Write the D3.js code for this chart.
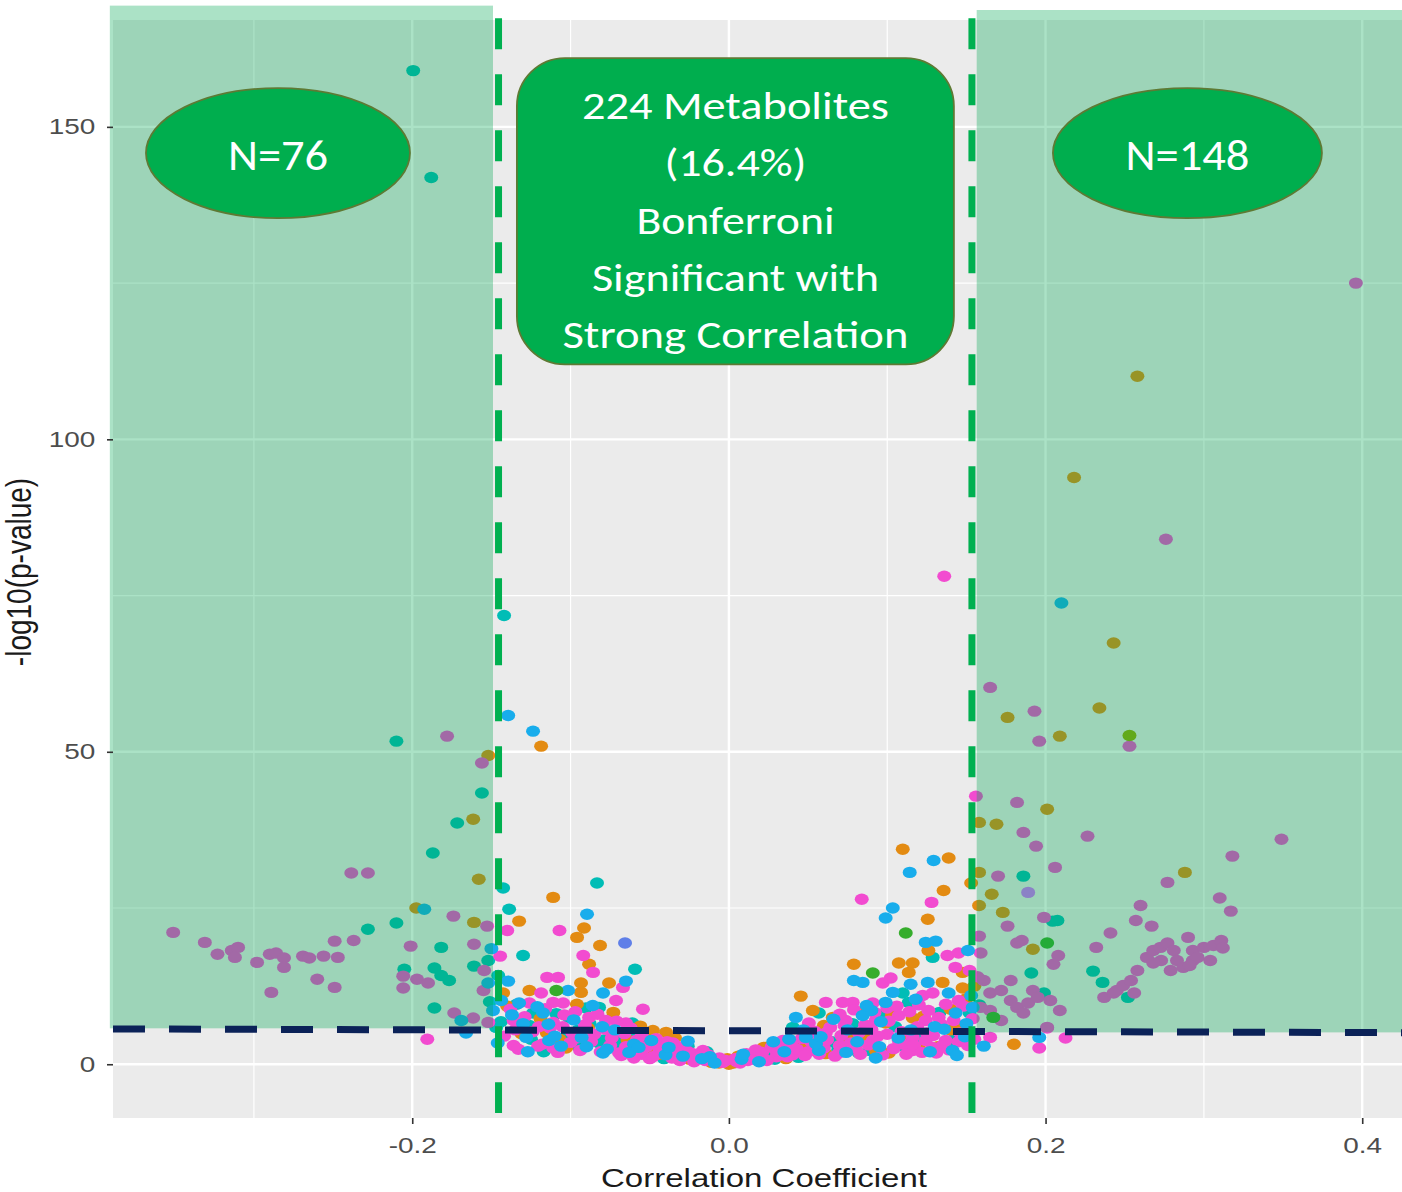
<!DOCTYPE html>
<html>
<head>
<meta charset="utf-8">
<script src="https://cdn.jsdelivr.net/npm/d3@7"></script>
<style>
  body { margin: 0; background: #ffffff; }
  svg { display: block; }
</style>
</head>
<body>
<svg id="chart" width="1402" height="1192"></svg>
<script>
// Each point: [correlation coefficient, -log10(p-value)], grouped by colour class.
const magentaPts = [
  [0.396,125.0],[0.276,84.0],[0.136,78.1],[0.165,60.3],[0.193,56.5],[0.196,51.7],[0.253,50.9],
  [0.156,42.9],[0.182,41.9],[0.186,37.1],[0.194,34.9],[0.2265,36.5],[0.206,31.5],[0.170,30.1],
  [0.176,22.1],[0.199,23.5],[0.158,20.5],[0.185,19.8],[0.182,19.4],[0.208,17.4],[0.205,16.0],
  [0.241,21.0],[0.232,18.7],[0.257,23.0],[0.260,25.4],[0.267,22.1],[0.277,29.1],
  [0.159,17.8],[0.161,13.4],[0.165,11.4],[0.172,11.8],[0.178,10.2],[0.182,9.1],[0.186,8.2],
  [0.189,9.8],[0.192,11.8],[0.195,10.7],[0.203,10.2],[0.209,8.6],[0.201,5.9],[0.165,8.6],
  [0.172,7.0],[0.159,9.1],[0.178,13.4],
  [0.245,11.8],[0.237,10.7],[0.243,11.4],[0.249,12.6],[0.254,13.4],[0.256,11.4],[0.258,15.0],
  [0.264,17.1],[0.268,18.2],[0.2726,18.7],[0.277,19.4],[0.281,18.2],[0.283,16.6],[0.273,16.6],
  [0.279,15.0],[0.268,16.2],[0.290,20.3],[0.293,18.2],[0.293,16.6],[0.287,15.5],
  [0.349,36.0],[0.318,33.3],[0.310,26.6],[0.317,24.5],[0.300,18.7],[0.306,19.0],[0.311,19.8],
  [0.312,18.6],[0.304,16.6],[0.296,17.1],[0.291,15.8],
  [0.196,2.6],[0.2126,4.2],[0.165,4.3],[0.201,5.8],
  [-0.178,52.5],[-0.156,48.2],[-0.2385,30.6],[-0.228,30.6],[-0.174,23.7],[-0.1527,22.1],
  [-0.351,21.1],[-0.331,19.5],[-0.323,17.6],[-0.314,18.2],[-0.310,18.7],[-0.312,17.1],
  [-0.298,16.3],[-0.290,17.6],[-0.286,17.8],[-0.281,17.0],[-0.281,15.5],[-0.269,17.3],
  [-0.265,17.0],[-0.256,17.3],[-0.247,17.1],[-0.249,19.7],[-0.237,19.8],[-0.289,11.5],
  [-0.260,13.6],[-0.249,12.3],[-0.201,18.9],[-0.161,19.2],[-0.2057,14.1],[-0.197,13.6],
  [-0.190,13.0],[-0.2057,12.2],[-0.1546,15.0],[-0.1735,8.2],[-0.1615,7.4],[-0.155,11.8],
  [-0.152,6.7],[-0.1905,4.0],
  [-0.140,21.4],[-0.107,21.4],[-0.1445,17.3],[-0.092,17.4],[-0.0858,14.7],[-0.1148,13.9],
  [-0.1079,13.9],[-0.0669,12.3],[-0.1186,11.4],[-0.0543,8.8],[-0.126,9.8],[-0.111,9.9],
  [-0.1047,9.8],[-0.0713,10.2],[-0.136,7.0],[-0.111,6.7],[-0.0883,7.5],[-0.0776,7.0],
  [-0.065,6.6],[-0.136,3.0],[-0.1205,2.9],[-0.111,2.6],[-0.0965,4.2],[-0.0694,1.8],
  [-0.0587,2.2],[-0.0442,1.8],[-0.0315,1.1],[-0.0208,1.1],[-0.0732,5.0],[-0.0353,3.4],
  [-0.0164,2.2],
  [-0.135,5.5],[-0.12,6.0],[-0.105,6.0],[-0.10,3.5],[-0.085,4.8],[-0.075,3.0],[-0.065,2.8],
  [-0.055,1.6],[-0.045,3.0],[-0.035,2.0],[-0.028,1.4],[-0.02,1.6],[-0.015,0.6],[-0.004,0.3],
  [-0.06,1.0],[-0.05,0.9],
  [-0.142,4.5],[-0.138,8.8],[-0.133,2.4],[-0.129,7.6],[-0.124,5.2],[-0.118,3.2],[-0.116,8.9],
  [-0.113,5.8],[-0.108,1.9],[-0.104,7.9],[-0.099,5.1],[-0.097,8.4],[-0.094,2.2],[-0.091,6.3],
  [-0.087,3.6],[-0.083,8.0],[-0.081,2.0],[-0.078,5.6],[-0.074,4.2],[-0.071,6.9],[-0.068,1.4],
  [-0.066,4.9],[-0.062,5.8],[-0.058,3.9],[-0.055,4.6],[-0.052,2.8],[-0.048,1.2],[-0.046,4.1],
  [-0.042,2.4],[-0.039,3.6],[-0.036,1.0],[-0.033,2.9],[-0.031,0.6],[-0.027,2.2],[-0.024,1.8],
  [-0.022,0.4],[-0.018,1.3],[-0.013,1.5],[-0.010,0.7],[-0.006,1.0],[-0.002,0.6],
  [0.0839,26.4],[0.128,25.9],[0.138,17.4],[0.145,17.8],[0.143,15.5],[0.0972,13.0],[0.1022,13.8],
  [0.0612,9.9],[0.0719,9.9],[0.0782,9.9],[0.0909,9.8],[0.1224,11.0],[0.1287,11.4],[0.1451,10.2],
  [0.0738,7.0],[0.0927,7.0],[0.1073,7.8],[0.1243,7.0],[0.1325,7.5],[0.0612,5.0],[0.082,5.0],
  [0.0909,3.8],[0.1073,3.8],[0.1161,4.3],[0.1243,3.8],[0.1369,3.8],[0.1161,2.2],[0.1287,2.7],
  [0.0404,2.7],[0.0297,2.2],[0.0189,1.8],[0.0107,1.1],[0.0694,1.8],[0.0505,6.6],[0.034,3.8],
  [0.005,0.4],[0.012,0.6],[0.02,1.0],[0.03,1.2],[0.04,1.5],[0.05,2.0],[0.06,2.6],[0.07,3.0],
  [0.08,2.6],[0.09,5.6],[0.10,4.8],[0.11,3.2],[0.125,5.0],[0.135,3.0],[0.145,3.6],[0.155,4.0],
  [0.07,8.0],[0.10,9.0],[0.12,9.5],[0.05,4.8],[0.152,15.0],[0.157,14.0],
  [0.004,0.9],[0.007,0.2],[0.011,1.7],[0.014,0.8],[0.017,2.3],[0.021,1.9],[0.024,0.6],
  [0.027,2.8],[0.031,2.1],[0.033,3.3],[0.037,1.2],[0.039,3.4],[0.043,2.4],[0.046,4.1],
  [0.048,1.4],[0.052,3.6],[0.054,5.3],[0.057,1.6],[0.062,3.9],[0.064,5.9],[0.067,1.3],
  [0.071,4.6],[0.073,6.2],[0.077,3.4],[0.079,8.7],[0.083,1.6],[0.086,6.3],[0.088,3.1],
  [0.092,8.3],[0.094,4.5],[0.097,1.5],[0.101,6.9],[0.104,2.5],[0.106,9.3],[0.109,5.2],
  [0.112,1.6],[0.114,8.4],[0.117,3.0],[0.119,6.0],[0.122,1.9],[0.126,8.6],[0.129,4.6],
  [0.131,1.8],[0.134,6.4],[0.137,9.6],[0.139,2.3],[0.142,7.0],[0.146,5.0],[0.148,9.3],
  [0.151,3.0],[0.154,7.3]
];

const tealPts = [
  [-0.1994,159.0],[-0.188,141.9],[-0.142,71.8],[-0.210,51.7],[-0.156,43.4],[-0.1716,38.6],
  [-0.187,33.8],[-0.210,22.6],[-0.228,21.6],[-0.1817,18.7],[-0.205,15.2],[-0.186,15.4],
  [-0.1817,14.2],[-0.1767,13.4],[-0.161,15.7],[-0.152,16.6],[-0.186,9.0],
  [-0.1426,28.2],[-0.0833,29.0],[-0.1388,24.8],[-0.130,17.4],[-0.0593,15.2],[-0.0902,9.0],
  [-0.082,9.1],[-0.1237,8.2],[-0.101,7.5],[-0.0946,2.7],[-0.082,3.4],[-0.0606,4.3],
  [-0.0505,3.8],[-0.147,5.9],[-0.1457,14.2],[-0.125,4.0],[-0.095,5.5],[-0.07,4.0],
  [-0.03,2.5],[-0.045,1.9],[-0.151,10.0],
  [-0.144,6.8],[-0.134,9.6],[-0.126,6.2],[-0.117,2.0],[-0.109,8.1],[-0.102,4.7],[-0.088,6.5],
  [-0.079,3.9],[-0.069,2.4],[-0.061,6.6],[-0.053,3.6],[-0.041,0.9],[-0.026,2.9],[-0.014,2.0],
  [0.186,30.1],[0.2075,23.0],[0.2045,22.9],[0.191,14.6],[0.230,14.9],[0.236,13.1],
  [0.199,11.4],[0.252,10.7],
  [0.1287,17.1],[0.1098,11.4],[0.1136,9.9],[0.0568,8.2],[0.082,1.8],[0.0404,5.9],
  [0.025,1.6],[0.065,3.6],[0.105,6.0],[0.158,9.5],
  [0.016,1.6],[0.029,0.8],[0.044,1.1],[0.059,5.1],[0.069,2.3],[0.078,6.5],[0.089,2.2],
  [0.098,8.0],[0.108,3.0],[0.121,4.4],[0.133,8.3],[0.141,3.8],[0.152,8.2]
];

const bluePts = [
  [0.210,73.8],[-0.1394,55.8],[-0.1237,53.3],[-0.1924,24.8],[-0.169,7.0],[-0.166,5.0],
  [-0.0896,24.0],[-0.1394,13.3],[-0.065,13.3],[-0.1016,11.8],[-0.0795,11.4],[-0.1325,9.8],
  [-0.149,8.6],[-0.1174,8.2],[-0.128,4.3],[-0.1136,3.8],[-0.0795,1.8],[-0.0259,3.7],
  [-0.1438,10.2],[-0.13,6.5],[-0.11,4.5],[-0.09,2.8],[-0.08,6.0],[-0.06,3.2],[-0.04,1.5],
  [-0.012,1.2],[-0.152,13.0],[-0.150,18.5],
  [-0.146,3.4],[-0.137,7.9],[-0.127,2.0],[-0.121,9.2],[-0.114,6.4],[-0.106,2.9],[-0.098,7.1],
  [-0.093,4.3],[-0.086,9.4],[-0.077,2.4],[-0.072,5.5],[-0.063,1.9],[-0.057,2.7],[-0.049,3.8],
  [-0.038,2.7],[-0.029,1.3],[-0.017,0.9],[-0.009,0.2],
  [0.1293,32.6],[0.1142,30.7],[0.1035,25.0],[0.099,23.4],[0.1243,19.5],[0.1306,19.7],
  [0.151,18.2],[0.0789,13.4],[0.0845,13.1],[0.1148,12.8],[0.1256,13.1],[0.0423,7.5],
  [0.099,9.9],[0.1035,11.5],[0.1388,11.4],[0.154,9.1],[0.0845,7.8],[0.1432,8.2],
  [0.0486,4.3],[0.1413,2.2],[0.0927,1.0],[0.0568,2.2],[0.008,0.8],[0.035,2.0],[0.055,3.3],
  [0.075,5.5],[0.095,2.8],[0.115,5.5],[0.13,6.0],[0.15,6.5],[0.09,8.6],[0.153,11.0],
  [0.009,1.6],[0.019,0.4],[0.028,3.6],[0.038,4.0],[0.047,5.5],[0.058,4.4],[0.066,7.2],
  [0.074,1.9],[0.081,3.6],[0.087,9.4],[0.096,6.8],[0.107,4.2],[0.118,10.4],[0.127,2.0],
  [0.136,5.6],[0.144,1.4],[0.149,4.4],
  [0.196,4.3],[0.161,2.9]
];

const orangePts = [
  [0.258,110.1],[0.218,93.9],[0.243,67.4],[0.176,55.5],[0.209,52.5],[0.234,57.0],[0.201,40.8],
  [0.158,38.7],[0.169,38.4],[0.158,30.7],[0.153,29.0],[0.166,27.2],[0.158,25.4],[0.173,24.3],
  [0.192,18.4],[0.288,30.7],[0.180,3.2],
  [-0.152,49.4],[-0.1615,39.2],[-0.158,29.6],[-0.1975,25.0],[-0.161,22.7],
  [-0.1186,50.9],[-0.111,26.7],[-0.1325,22.9],[-0.0915,21.8],[-0.0959,20.3],[-0.0814,19.0],
  [-0.0883,16.0],[-0.0757,13.0],[-0.126,11.8],[-0.0934,11.5],[-0.0934,13.0],[-0.1426,11.4],
  [-0.048,5.4],[-0.0397,5.1],[-0.1028,2.6],[-0.0063,0.2],[-0.115,5.0],[-0.05,2.6],
  [-0.025,0.8],[-0.008,0.5],[0.0,0.0],[0.003,0.2],
  [-0.140,9.3],[-0.131,4.9],[-0.119,7.3],[-0.107,4.0],[-0.096,9.6],[-0.089,5.8],[-0.073,8.3],
  [-0.064,3.9],[-0.056,6.1],[-0.044,1.6],[-0.034,4.2],[-0.023,0.9],[-0.011,0.3],[-0.001,0.9],
  [0.1098,34.4],[0.1388,33.0],[0.1356,27.8],[0.1256,23.2],[0.126,18.2],[0.1476,14.7],
  [0.0789,16.0],[0.1073,16.2],[0.1161,16.2],[0.1136,14.7],[0.135,13.1],[0.1476,12.2],
  [0.0454,10.9],[0.053,8.6],[0.0656,7.5],[0.099,6.6],[0.1161,7.4],[0.0719,4.3],[0.101,1.8],
  [0.0025,0.3],[0.0233,2.7],[0.015,1.3],[0.045,3.0],[0.085,4.5],[0.12,2.6],[0.14,5.5],
  [0.06,6.2],[0.14,8.8],[0.155,12.5],
  [0.006,1.3],[0.022,2.7],[0.036,0.9],[0.049,3.4],[0.061,1.7],[0.076,4.9],[0.084,8.4],
  [0.093,2.1],[0.103,7.9],[0.113,4.1],[0.123,7.7],[0.132,2.8],[0.143,6.2],[0.150,10.5]
];

const greenPts = [[-0.109,11.8],[0.1117,21.0],[0.0909,14.6],[0.201,19.4],[0.167,7.5]];
const limePts = [[0.253,52.6]];
const periwinklePts = [[-0.0656,19.4]];
const violetPts = [[0.189,27.5]];

// Axis ticks and gridlines
const xTicks = [-0.2, 0.0, 0.2, 0.4];
const xMinor = [-0.3, -0.1, 0.1, 0.3];
const yTicks = [0, 50, 100, 150];
const yMinor = [25, 75, 125];

// Plot limits
const xLim = [-0.389, 0.43];
const yLim = [-8.6, 167.1];

// Thresholds: Bonferroni line (start/end) and the strong-correlation cut-offs
const bonferroniLine = [[-0.389, 5.65], [0.43, 5.05]];
const corrCuts = [-0.1455, 0.1535];
// Shaded zones of strong, significant correlation
const zones = [
  { r: [-0.391, -0.149], p: [5.75, 169.4] },
  { r: [0.1565, 0.45], p: [5.1, 168.7] }
];

// Annotations
const countLabels = [
  { text: "N=76", r: -0.2848, p: 145.8, rx: 132, width: 100 },
  { text: "N=148", r: 0.2896, p: 145.8, rx: 134.5, width: 124 }
];
const summaryLines = ["224 Metabolites", "(16.4%)", "Bonferroni", "Significant with", "Strong Correlation"];
const summaryWidths = [307, 142, 198, 287, 346];
const summaryBox = { r: [-0.1339, 0.1421], p: [112.0, 161.0] };

const svg = d3.select("#chart");
const panel = { left: 113, top: 20, bottom: 1118 };
const pxPerUnit = 1583.3;
const x = d3.scaleLinear().domain(xLim).range([panel.left, panel.left + (xLim[1] - xLim[0]) * pxPerUnit]);
const y = d3.scaleLinear().domain(yLim).range([panel.bottom, panel.top]);
const stretch = 1.27;

// Panel background
svg.append("rect")
  .attr("x", x(xLim[0])).attr("y", y(yLim[1]))
  .attr("width", x(xLim[1]) - x(xLim[0])).attr("height", y(yLim[0]) - y(yLim[1]))
  .attr("fill", "#EBEBEB");

// Gridlines
const grid = svg.append("g");
grid.selectAll(".xminor").data(xMinor).join("line")
  .attr("x1", d => x(d)).attr("x2", d => x(d)).attr("y1", y(yLim[0])).attr("y2", y(yLim[1]))
  .attr("stroke", "#fff").attr("stroke-width", 1.2);
grid.selectAll(".yminor").data(yMinor).join("line")
  .attr("y1", d => y(d)).attr("y2", d => y(d)).attr("x1", x(xLim[0])).attr("x2", x(xLim[1]))
  .attr("stroke", "#fff").attr("stroke-width", 1.2);
grid.selectAll(".xmajor").data(xTicks).join("line")
  .attr("x1", d => x(d)).attr("x2", d => x(d)).attr("y1", y(yLim[0])).attr("y2", y(yLim[1]))
  .attr("stroke", "#fff").attr("stroke-width", 2.4);
grid.selectAll(".ymajor").data(yTicks).join("line")
  .attr("y1", d => y(d)).attr("y2", d => y(d)).attr("x1", x(xLim[0])).attr("x2", x(xLim[1]))
  .attr("stroke", "#fff").attr("stroke-width", 2.4);

// Points
const groups = [
  { pts: tealPts, color: "#00BDB6" },
  { pts: orangePts, color: "#E38B12" },
  { pts: magentaPts, color: "#F24BD0" },
  { pts: bluePts, color: "#18ADEC" },
  { pts: greenPts, color: "#36AD2C" },
  { pts: limePts, color: "#93AA00" },
  { pts: periwinklePts, color: "#5F7FE8" },
  { pts: violetPts, color: "#D070FF" }
];
const pointLayer = svg.append("g");
groups.forEach(g => {
  pointLayer.append("g").selectAll("ellipse").data(g.pts).join("ellipse")
    .attr("cx", d => x(d[0])).attr("cy", d => y(d[1]))
    .attr("rx", 7).attr("ry", 5.7)
    .attr("fill", g.color);
});

// Shaded zones (translucent, over the points)
svg.append("g").selectAll("rect").data(zones).join("rect")
  .attr("x", d => x(d.r[0])).attr("y", d => y(d.p[1]))
  .attr("width", d => x(d.r[1]) - x(d.r[0])).attr("height", d => y(d.p[0]) - y(d.p[1]))
  .attr("fill", "rgb(0,166,81)").attr("fill-opacity", 0.33);

// Bonferroni threshold
svg.append("line")
  .attr("x1", x(bonferroniLine[0][0])).attr("y1", y(bonferroniLine[0][1]))
  .attr("x2", x(bonferroniLine[1][0])).attr("y2", y(bonferroniLine[1][1]))
  .attr("stroke", "#0B2258").attr("stroke-width", 7).attr("stroke-dasharray", "32,24");

// Correlation cut-offs
svg.append("g").selectAll("line").data(corrCuts).join("line")
  .attr("x1", d => x(d)).attr("x2", d => x(d))
  .attr("y1", y(167.4)).attr("y2", y(-7.8))
  .attr("stroke", "#00B050").attr("stroke-width", 7).attr("stroke-dasharray", "31,25");

// Count ellipses
const ann = svg.append("g").attr("font-family", "Carlito, Lato, 'Open Sans', sans-serif");
countLabels.forEach(c => {
  ann.append("ellipse")
    .attr("cx", x(c.r)).attr("cy", y(c.p)).attr("rx", c.rx).attr("ry", 65)
    .attr("fill", "#00AE4E").attr("stroke", "#5E7A34").attr("stroke-width", 1.8);
  ann.append("text")
    .attr("x", x(c.r)).attr("y", y(c.p) + 17)
    .attr("text-anchor", "middle").attr("font-size", 44).attr("fill", "#fff")
    .attr("textLength", c.width).attr("lengthAdjust", "spacingAndGlyphs")
    .text(c.text);
});

// Summary box
const bx0 = x(summaryBox.r[0]), bx1 = x(summaryBox.r[1]);
const by0 = y(summaryBox.p[1]), by1 = y(summaryBox.p[0]);
ann.append("rect")
  .attr("x", bx0).attr("y", by0).attr("width", bx1 - bx0).attr("height", by1 - by0)
  .attr("rx", 48).attr("ry", 48)
  .attr("fill", "#00AE4E").attr("stroke", "#5E7A34").attr("stroke-width", 1.8);
summaryLines.forEach((t, i) => {
  ann.append("text")
    .attr("x", (bx0 + bx1) / 2).attr("y", by0 + 61 + i * 57.3)
    .attr("text-anchor", "middle").attr("font-size", 39).attr("fill", "#fff")
    .attr("textLength", summaryWidths[i]).attr("lengthAdjust", "spacingAndGlyphs")
    .text(t);
});

// Axes
const axisFont = "'Liberation Sans', Arial, sans-serif";
const hyphenMinus = f => d => f(d).replace("\u2212", "-");
const yAxis = svg.append("g").attr("transform", `translate(${panel.left},0)`)
  .call(d3.axisLeft(y).tickValues(yTicks).tickFormat(hyphenMinus(d3.format("d"))).tickSize(6).tickPadding(8));
const xAxis = svg.append("g").attr("transform", `translate(0,${panel.bottom})`)
  .call(d3.axisBottom(x).tickValues(xTicks).tickFormat(hyphenMinus(d3.format(".1f"))).tickSize(6).tickPadding(13));
[yAxis, xAxis].forEach(a => {
  a.select(".domain").remove();
  a.selectAll(".tick line").attr("stroke", "#333").attr("stroke-width", 1.6);
  a.selectAll(".tick text")
    .attr("font-family", axisFont).attr("font-size", 22).attr("fill", "#4D4D4D")
    .attr("transform", `scale(${stretch},1)`);
});

// Axis titles
svg.append("text")
  .attr("transform", `translate(764,1187) scale(${stretch},1)`)
  .attr("text-anchor", "middle").attr("font-family", axisFont).attr("font-size", 26)
  .attr("fill", "#1a1a1a").text("Correlation Coefficient");
svg.append("text")
  .attr("transform", `translate(31,572) scale(${stretch},1) rotate(-90)`)
  .attr("text-anchor", "middle").attr("font-family", axisFont).attr("font-size", 28)
  .attr("fill", "#1a1a1a").text("-log10(p-value)");
</script>
</body>
</html>
